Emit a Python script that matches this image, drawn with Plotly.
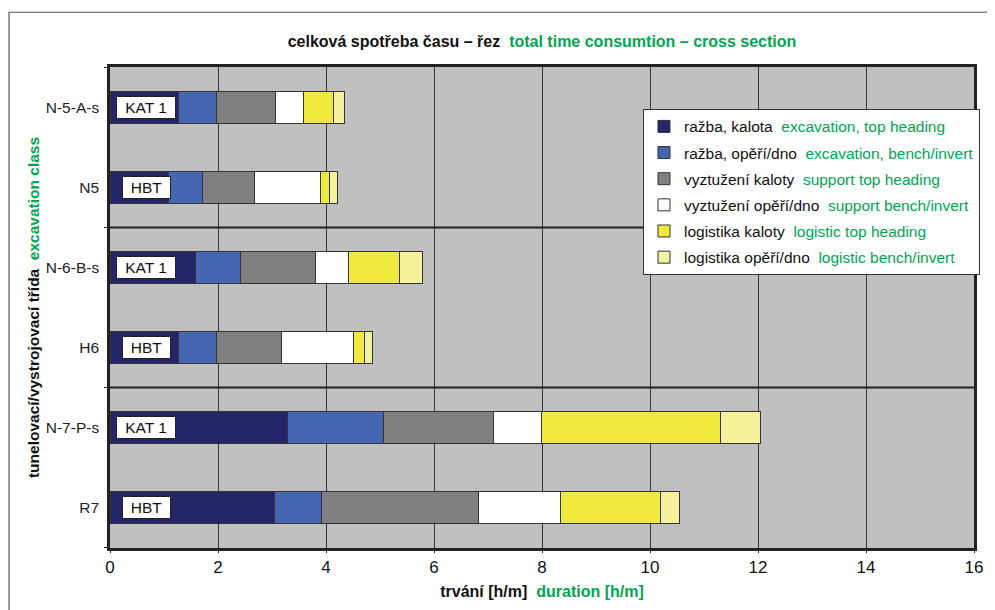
import plotly.graph_objects as go

categories = ["N-5-A-s", "N5", "N-6-B-s", "H6", "N-7-P-s", "R7"]
box_labels = ["KAT 1", "HBT", "KAT 1", "HBT", "KAT 1", "HBT"]

series_cz = ["ražba, kalota", "ražba, opěří/dno", "vyztužení kaloty",
             "vyztužení opěří/dno", "logistika kaloty", "logistika opěří/dno"]
series_en = ["excavation, top heading", "excavation, bench/invert", "support top heading",
             "support bench/invert", "logistic top heading", "logistic bench/invert"]

exc_top =     [1.26, 1.09, 1.58, 1.26, 3.29, 3.04]
exc_bench =   [0.72, 0.63, 0.83, 0.71, 1.77, 0.87]
sup_top =     [1.08, 0.96, 1.39, 1.21, 2.05, 2.92]
sup_bench =   [0.52, 1.21, 0.62, 1.32, 0.88, 1.51]
log_top =     [0.55, 0.17, 0.94, 0.21, 3.31, 1.85]
log_bench =   [0.21, 0.16, 0.42, 0.16, 0.75, 0.36]

x_ticks = [0, 2, 4, 6, 8, 10, 12, 14, 16]

series_vals = [exc_top, exc_bench, sup_top, sup_bench, log_top, log_bench]
colors = ["#25266A", "#4566B0", "#808080", "#FFFFFF", "#F0EA3C", "#F6F29C"]
GREEN = "#00A651"
NARROW = "Liberation Sans Narrow, Arial Narrow, Arial, sans-serif"
REG = "Arial, Liberation Sans, sans-serif"

W, H = 987, 602
L, R, T, B = 102, 19, 59, 60
pw, ph = W - L - R, H - T - B

fig = go.Figure()
for i, vals in enumerate(series_vals):
    name = (series_cz[i] + "&nbsp;&nbsp;<span style='color:%s'>" % GREEN
            + series_en[i] + "</span>")
    fig.add_trace(go.Bar(
        y=categories, x=vals, orientation="h", name=name,
        marker=dict(color=colors[i], line=dict(color="#333333", width=1)),
        width=0.39, legendgroup="g%d" % i,
    ))

# label boxes
for cat, lab in zip(categories, box_labels):
    fig.add_annotation(x=0.67, y=cat, xref="x", yref="y", text=lab, showarrow=False,
                       font=dict(family=REG, size=15.5, color="#111"),
                       bgcolor="white", bordercolor="#222", borderwidth=1,
                       width=56 if lab == "KAT 1" else 45, height=19, borderpad=1)

shapes = []
for yb in [1.5, 3.5]:
    shapes.append(dict(type="line", xref="paper", x0=0, x1=1, yref="y", y0=yb, y1=yb,
                       line=dict(color="#222222", width=2)))
for yb in [-0.5, 1.5, 3.5, 5.5]:
    shapes.append(dict(type="line", xref="paper", x0=-0.007, x1=0, yref="y", y0=yb, y1=yb,
                       line=dict(color="#222222", width=1)))
# outer frame
shapes.append(dict(type="rect", xref="paper", yref="paper",
                   x0=(0.8 - L) / pw, x1=1.2, y0=-0.3, y1=(H - B - 4) / ph,
                   line=dict(color="#555555", width=1.2)))

fig.update_layout(
    width=W, height=H,
    margin=dict(l=L, r=R, t=T, b=B),
    paper_bgcolor="white", plot_bgcolor="#C0C0C0",
    barmode="stack",
    shapes=shapes,
    title=dict(text="<b>celková spotřeba času – řez&nbsp;&nbsp;<span style='color:%s'>total time consumtion – cross section</span></b>" % GREEN,
               x=0.5, xref="paper", xanchor="center", y=1 - 33 / H, yanchor="middle",
               font=dict(family=NARROW, size=16, color="#111")),
    legend=dict(x=(974 - L) / pw, xanchor="right", y=(H - B - 101) / ph, yanchor="top",
                bgcolor="white", bordercolor="#333", borderwidth=1,
                font=dict(family=REG, size=15.5, color="#111"),
                traceorder="grouped", tracegroupgap=3, itemwidth=30),
    xaxis=dict(range=[0, 16], tickvals=x_ticks, showgrid=True, gridcolor="#333333", gridwidth=1,
               zeroline=False, showline=True, linecolor="#222222", linewidth=2.5, mirror=True,
               ticks="outside", ticklen=2, tickcolor="#222",
               tickfont=dict(family=NARROW, size=17, color="#111"),
               title=dict(text="<b>trvání [h/m]&nbsp;&nbsp;<span style='color:%s'>duration [h/m]</span></b>" % GREEN,
                          font=dict(family=NARROW, size=16, color="#111"), standoff=10)),
    yaxis=dict(categoryorder="array", categoryarray=categories, autorange="reversed",
               showgrid=False, showline=True, linecolor="#222222", linewidth=2.5, mirror=True,
               ticks="outside", ticklen=5, tickcolor="rgba(0,0,0,0)",
               tickfont=dict(family=REG, size=15.5, color="#222"),
               title=dict(text="<b>tunelovací/vystrojovací třída&nbsp;&nbsp;<span style='color:%s'>excavation class</span></b>" % GREEN,
                          font=dict(family=REG, size=15.5, color="#111"), standoff=3)),
)

fig.write_html("out.html")
